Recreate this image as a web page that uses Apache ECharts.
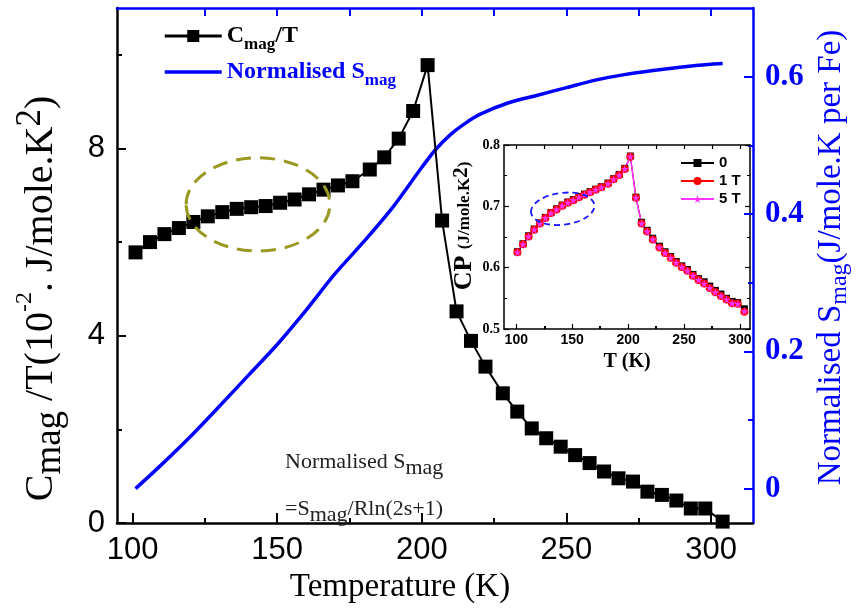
<!DOCTYPE html>
<html lang="en">
<head>
<meta charset="UTF-8">
<title>Cmag/T and normalised Smag</title>
<style>
  html, body { margin: 0; padding: 0; background: #fff; }
  #chart { width: 866px; height: 612px; }
</style>
</head>
<body>
<div id="chart"></div>
<script src="https://cdn.jsdelivr.net/npm/echarts@6/dist/echarts.min.js"></script>
<script>
  // temperatures (K), shared by the main plot and the inset
  const temps = [101, 106, 111, 116, 121, 126, 131, 136, 141, 146, 151, 156, 161, 166, 171, 176,
    182, 187, 192, 197, 202, 207, 212, 217, 222, 228, 233, 238, 243, 248, 253, 258, 263, 268,
    273, 278, 283, 288, 293, 298, 304]

  // Cmag/T (10^-2 J/mole.K^2)
  const cmagT = [5.78, 6.00, 6.17, 6.30, 6.43, 6.55, 6.64, 6.71, 6.745, 6.77, 6.84, 6.91, 7.02,
    7.12, 7.21, 7.30, 7.55, 7.81, 8.21, 8.80, 9.78, 6.46, 4.52, 3.89, 3.34, 2.77, 2.38, 2.02,
    1.81, 1.63, 1.45, 1.28, 1.10, 0.955, 0.885, 0.67, 0.60, 0.48, 0.31, 0.31, 0.03]

  // normalised Smag (J/mole.K per Fe)
  const smagT = [101, 110, 120, 130, 140, 150, 160, 170, 180, 190, 200, 205, 210, 215, 220, 230,
    240, 250, 260, 270, 280, 290, 300, 304]
  const smag = [0.0, 0.035, 0.076, 0.12, 0.165, 0.21, 0.26, 0.313, 0.36, 0.41, 0.468, 0.495,
    0.516, 0.532, 0.545, 0.562, 0.573, 0.584, 0.595, 0.603, 0.609, 0.614, 0.618, 0.619]

  // inset: Cp (J/mole.K^2) at 0, 1 T, 5 T
  const cp0 = [0.626, 0.639, 0.652, 0.663, 0.673, 0.682, 0.690, 0.696, 0.702, 0.707, 0.711, 0.716,
    0.720, 0.724, 0.728, 0.732, 0.738, 0.745, 0.752, 0.762, 0.782, 0.715, 0.674, 0.661, 0.648,
    0.635, 0.626, 0.618, 0.610, 0.603, 0.597, 0.589, 0.582, 0.577, 0.570, 0.563, 0.557, 0.550,
    0.545, 0.543, 0.533]
  const cp1 = [0.625, 0.638, 0.651, 0.662, 0.672, 0.681, 0.689, 0.695, 0.701, 0.706, 0.710, 0.715,
    0.719, 0.723, 0.727, 0.731, 0.737, 0.744, 0.751, 0.761, 0.781, 0.714, 0.672, 0.659, 0.646,
    0.633, 0.624, 0.616, 0.608, 0.601, 0.595, 0.587, 0.580, 0.574, 0.567, 0.560, 0.554, 0.548,
    0.542, 0.541, 0.528]
  const cp5 = [0.625, 0.638, 0.651, 0.662, 0.672, 0.681, 0.689, 0.695, 0.701, 0.706, 0.710, 0.715,
    0.719, 0.723, 0.727, 0.731, 0.737, 0.744, 0.751, 0.761, 0.781, 0.714, 0.672, 0.659, 0.646,
    0.633, 0.624, 0.616, 0.608, 0.601, 0.595, 0.587, 0.580, 0.574, 0.567, 0.560, 0.554, 0.548,
    0.542, 0.541, 0.529]

  // tick values
  const xTicks = [100, 150, 200, 250, 300]
  const xMinorTicks = [125, 175, 225, 275]
  const xTopTicks = [125, 150, 175, 200, 225, 250, 275, 300]
  const leftTicks = [0, 4, 8]
  const leftMinorTicks = [2, 6, 10]
  const rightTicks = [0, 0.2, 0.4, 0.6]
  const rightMinorTicks = [0.1, 0.3, 0.5]

  const BLUE = '#0000ff'
  const TIMES = '"Liberation Serif", "Times New Roman", serif'
  const ARIAL = '"Liberation Sans", Arial, sans-serif'

  const pairs = (xs, ys) => xs.map((x, i) => [x, ys[i]])

  const chart = echarts.init(document.getElementById('chart'), null, { renderer: 'canvas' })

  // a bare axis that only carries extra tick marks
  function tickAxis (base, values, len, color) {
    return Object.assign({
      type: 'value',
      axisLine: { show: false, onZero: false },
      axisTick: { inside: true, length: len, customValues: values, lineStyle: { color: color, width: 2 } },
      axisLabel: { show: false },
      splitLine: { show: false }
    }, base)
  }

  const option = {
    animation: false,
    backgroundColor: '#fff',
    grid: [
      { left: 117, right: 113, top: 8, bottom: 89 },
      { left: 504, right: 116, top: 145, bottom: 283 }
    ],
    legend: [
      {
        left: 163, top: 24, orient: 'vertical', itemGap: 7, padding: 0,
        itemWidth: 57, itemHeight: 15,
        data: [
          { name: 'Cmag/T', lineStyle: { width: 3 } },
          { name: 'Normalised Smag', itemStyle: { opacity: 0 }, lineStyle: { width: 3.5 } }
        ],
        formatter: name => name === 'Cmag/T'
          ? '{b|C}{bs|mag}{b|/T}'
          : '{u|Normalised S}{us|mag}',
        textStyle: {
          rich: {
            b: { fontFamily: TIMES, fontWeight: 'bold', fontSize: 24, color: '#000', lineHeight: 34 },
            bs: { fontFamily: TIMES, fontWeight: 'bold', fontSize: 17, color: '#000', lineHeight: 18, verticalAlign: 'bottom' },
            u: { fontFamily: TIMES, fontWeight: 'bold', fontSize: 24, color: BLUE, lineHeight: 34 },
            us: { fontFamily: TIMES, fontWeight: 'bold', fontSize: 17, color: BLUE, lineHeight: 18, verticalAlign: 'bottom' }
          }
        }
      },
      {
        left: 680, top: 155, orient: 'vertical', itemGap: 2, padding: 0,
        itemWidth: 33, itemHeight: 10,
        data: ['0', '1 T', '5 T'],
        textStyle: { fontFamily: ARIAL, fontWeight: 'bold', fontSize: 15, lineHeight: 16, color: '#000' }
      }
    ],
    xAxis: [
      {
        gridIndex: 0, type: 'value', position: 'bottom', min: 94.6, max: 314.5,
        name: 'Temperature (K)', nameLocation: 'middle', nameGap: 42,
        nameTextStyle: { fontFamily: TIMES, fontSize: 33, color: '#000', padding: [0, 70, 0, 0] },
        axisLine: { onZero: false, lineStyle: { color: '#000', width: 2.5 } },
        axisTick: { inside: true, length: 10, customValues: xTicks, lineStyle: { color: '#000', width: 2 } },
        axisLabel: { customValues: xTicks, margin: 12, fontFamily: ARIAL, fontSize: 31, color: '#000' },
        splitLine: { show: false }
      },
      tickAxis({ gridIndex: 0, position: 'bottom', min: 94.6, max: 314.5 }, xMinorTicks, 5, '#000'),
      {
        gridIndex: 0, type: 'value', position: 'top', min: 94.6, max: 314.5,
        axisLine: { onZero: false, lineStyle: { color: BLUE, width: 2.5 } },
        axisTick: { inside: true, length: 8, customValues: xTopTicks, lineStyle: { color: BLUE, width: 2 } },
        axisLabel: { show: false },
        splitLine: { show: false }
      },
      // inset
      {
        gridIndex: 1, type: 'value', position: 'bottom', min: 89, max: 309,
        name: 'T (K)', nameLocation: 'middle', nameGap: 23,
        nameTextStyle: { fontFamily: TIMES, fontWeight: 'bold', fontSize: 20, color: '#000' },
        axisLine: { onZero: false, lineStyle: { color: '#000', width: 1.5 } },
        axisTick: { inside: true, length: 5, customValues: xTicks, lineStyle: { color: '#000', width: 1.2 } },
        axisLabel: { customValues: xTicks, margin: 4, fontFamily: ARIAL, fontWeight: 'bold', fontSize: 14, color: '#000' },
        splitLine: { show: false }
      },
      tickAxis({ gridIndex: 1, position: 'bottom', min: 89, max: 309 }, xMinorTicks, 3, '#000'),
      {
        gridIndex: 1, type: 'value', position: 'top', min: 89, max: 309,
        axisLine: { onZero: false, lineStyle: { color: '#000', width: 1.5 } },
        axisTick: { inside: true, length: 4, customValues: xTopTicks.concat([100]), lineStyle: { color: '#000', width: 1.2 } },
        axisLabel: { show: false },
        splitLine: { show: false }
      }
    ],
    yAxis: [
      {
        gridIndex: 0, type: 'value', position: 'left', min: 0, max: 11,
        name: '{n|C}{sub|mag}{n| /T(10}{sup|-2}{n|. J/mole.K}{sup2|2}{n|)}',
        nameLocation: 'middle', nameGap: 48,
        nameTextStyle: {
          padding: [0, 66, 0, 0],
          rich: {
            n: { fontFamily: TIMES, fontSize: 40, color: '#000', lineHeight: 56 },
            sub: { fontFamily: TIMES, fontSize: 37, color: '#000', lineHeight: 38, verticalAlign: 'bottom' },
            sup: { fontFamily: TIMES, fontSize: 24, color: '#000', lineHeight: 26, verticalAlign: 'top' },
            sup2: { fontFamily: TIMES, fontSize: 35, color: '#000', lineHeight: 35, verticalAlign: 'top' }
          }
        },
        axisLine: { show: true, onZero: false, lineStyle: { color: '#000', width: 2.5 } },
        axisTick: { inside: true, length: 9, customValues: leftTicks, lineStyle: { color: '#000', width: 2 } },
        axisLabel: { customValues: leftTicks, margin: 12, fontFamily: ARIAL, fontSize: 31, color: '#000' },
        splitLine: { show: false }
      },
      tickAxis({ gridIndex: 0, position: 'left', min: 0, max: 11 }, leftMinorTicks, 5, '#000'),
      {
        gridIndex: 0, type: 'value', position: 'right', min: -0.05, max: 0.70,
        name: '{n|Normalised S}{s|mag}{n|(J/mole.K per Fe)}',
        nameLocation: 'middle', nameGap: 31,
        nameTextStyle: {
          padding: [0, 0, 0, 16],
          rich: {
            n: { fontFamily: TIMES, fontSize: 33, color: BLUE, lineHeight: 42 },
            s: { fontFamily: TIMES, fontSize: 24, color: BLUE, lineHeight: 24, verticalAlign: 'bottom' }
          }
        },
        axisLine: { show: true, onZero: false, lineStyle: { color: BLUE, width: 2.5 } },
        axisTick: { inside: true, length: 9, customValues: rightTicks, lineStyle: { color: BLUE, width: 2 } },
        axisLabel: { customValues: rightTicks, margin: 12, fontFamily: TIMES, fontWeight: 'bold', fontSize: 31, color: BLUE },
        splitLine: { show: false }
      },
      tickAxis({ gridIndex: 0, position: 'right', min: -0.05, max: 0.70 }, rightMinorTicks, 5, BLUE),
      // inset
      {
        gridIndex: 1, type: 'value', position: 'left', min: 0.5, max: 0.8, interval: 0.1,
        name: '{b|CP }{s|(J/mole.K}{p|2}{s|)}',
        nameLocation: 'middle', nameGap: 26,
        nameTextStyle: {
          padding: [0, 0, 0, 22],
          rich: {
            b: { fontFamily: TIMES, fontWeight: 'bold', fontSize: 26, color: '#000', lineHeight: 27 },
            s: { fontFamily: TIMES, fontWeight: 'bold', fontSize: 17, color: '#000', lineHeight: 27 },
            p: { fontFamily: TIMES, fontWeight: 'bold', fontSize: 21, color: '#000', lineHeight: 21, verticalAlign: 'top' }
          }
        },
        axisLine: { show: true, onZero: false, lineStyle: { color: '#000', width: 1.5 } },
        axisTick: { inside: true, length: 5, lineStyle: { color: '#000', width: 1.2 } },
        minorTick: { show: true, splitNumber: 2, length: 3, lineStyle: { color: '#000', width: 1 } },
        axisLabel: { margin: 4, fontFamily: TIMES, fontWeight: 'bold', fontSize: 14, color: '#000', formatter: v => v.toFixed(1) },
        splitLine: { show: false }
      },
      {
        gridIndex: 1, type: 'value', position: 'right', min: 0.5, max: 0.8, interval: 0.1,
        axisLine: { show: true, onZero: false, lineStyle: { color: '#000', width: 1.5 } },
        axisTick: { inside: true, length: 5, lineStyle: { color: '#000', width: 1.2 } },
        minorTick: { show: true, splitNumber: 2, length: 3, lineStyle: { color: '#000', width: 1 } },
        axisLabel: { show: false },
        splitLine: { show: false }
      }
    ],
    series: [
      {
        name: 'Cmag/T', type: 'line', xAxisIndex: 0, yAxisIndex: 0,
        data: pairs(temps, cmagT),
        symbol: 'rect', symbolSize: 14,
        itemStyle: { color: '#000' },
        lineStyle: { color: '#000', width: 2 },
        z: 3
      },
      {
        name: 'Normalised Smag', type: 'line', xAxisIndex: 0, yAxisIndex: 2,
        data: pairs(smagT, smag),
        symbol: 'none', smooth: 0.3,
        lineStyle: { color: BLUE, width: 3.5 },
        itemStyle: { color: BLUE },
        z: 2
      },
      {
        name: '0', type: 'line', xAxisIndex: 3, yAxisIndex: 4,
        data: pairs(temps, cp0),
        symbol: 'rect', symbolSize: 7,
        itemStyle: { color: '#000' },
        lineStyle: { color: '#000', width: 1 }
      },
      {
        name: '1 T', type: 'line', xAxisIndex: 3, yAxisIndex: 4,
        data: pairs(temps, cp1),
        symbol: 'circle', symbolSize: 8,
        itemStyle: { color: '#ff0000' },
        lineStyle: { color: '#ff0000', width: 1 }
      },
      {
        name: '5 T', type: 'line', xAxisIndex: 3, yAxisIndex: 4,
        data: pairs(temps, cp5),
        symbol: 'path://M50,0 L61,35 L98,35 L68,57 L79,91 L50,70 L21,91 L32,57 L2,35 L39,35 Z',
        symbolSize: 8,
        itemStyle: { color: '#ff33ff' },
        lineStyle: { color: '#ff33ff', width: 1.5 }
      }
    ]
  }

  chart.setOption(option)

  // annotations placed from data coordinates
  const toPx = (xi, yi, pt) => chart.convertToPixel({ xAxisIndex: xi, yAxisIndex: yi }, pt)

  function ellipseFromBox (xi, yi, t0, t1, v0, v1) {
    const a = toPx(xi, yi, [t0, v0])
    const b = toPx(xi, yi, [t1, v1])
    return {
      x: (a[0] + b[0]) / 2, y: (a[1] + b[1]) / 2,
      rx: Math.abs(b[0] - a[0]) / 2, ry: Math.abs(b[1] - a[1]) / 2
    }
  }

  const e1 = ellipseFromBox(0, 0, 118.5, 168.2, 5.81, 7.80)
  const e2 = ellipseFromBox(3, 4, 113, 170, 0.670, 0.722)
  const t1 = toPx(0, 0, [152.7, 1.30])
  const t2 = toPx(0, 0, [152.7, 0.30])

  const noteRich = {
    n: { fontFamily: TIMES, fontSize: 22, fill: '#222', lineHeight: 34 },
    s: { fontFamily: TIMES, fontSize: 22, fill: '#222', lineHeight: 22, verticalAlign: 'bottom' }
  }

  chart.setOption({
    graphic: [
      {
        type: 'ellipse', x: e1.x, y: e1.y,
        shape: { cx: 0, cy: 0, rx: e1.rx, ry: e1.ry },
        style: { fill: 'none', stroke: '#999922', lineWidth: 3, lineDash: [15, 9] },
        z: 10
      },
      {
        type: 'ellipse', x: e2.x, y: e2.y, rotation: 0.12,
        shape: { cx: 0, cy: 0, rx: e2.rx, ry: e2.ry },
        style: { fill: 'none', stroke: '#1a1aff', lineWidth: 1.8, lineDash: [6, 4] },
        z: 10
      },
      {
        type: 'text', x: t1[0], y: t1[1],
        style: { text: '{n|Normalised S}{s|mag}', rich: noteRich, verticalAlign: 'middle' },
        z: 10
      },
      {
        type: 'text', x: t2[0], y: t2[1],
        style: { text: '{n|=S}{s|mag}{n|/Rln(2s+1)}', rich: noteRich, verticalAlign: 'middle' },
        z: 10
      }
    ]
  })
</script>
</body>
</html>
